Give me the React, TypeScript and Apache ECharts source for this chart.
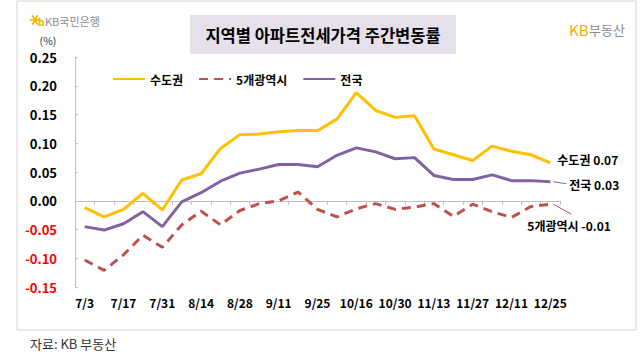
import React, { useEffect, useRef } from "react";
import * as echarts from "echarts";

const categories = [
  "7/3", "7/10", "7/17", "7/24", "7/31", "8/7", "8/14", "8/21", "8/28", "9/4",
  "9/11", "9/18", "9/25", "10/9", "10/16", "10/23", "10/30", "11/6", "11/13",
  "11/20", "11/27", "12/4", "12/11", "12/18", "12/25",
];

const seriesNames = ["수도권", "5개광역시", "전국"];

const capitalArea = [
  -0.012, -0.028, -0.015, 0.013, -0.016, 0.036, 0.047, 0.091, 0.115, 0.116,
  0.12, 0.122, 0.122, 0.142, 0.188, 0.157, 0.145, 0.148, 0.09, 0.08, 0.07,
  0.095, 0.086, 0.08, 0.066,
];

const fiveMetroCities = [
  -0.103, -0.121, -0.094, -0.06, -0.081, -0.042, -0.018, -0.042, -0.017, -0.005,
  0.0, 0.015, -0.015, -0.028, -0.014, -0.005, -0.015, -0.011, -0.005, -0.027,
  -0.006, -0.019, -0.029, -0.01, -0.006,
];

const nationwide = [
  -0.045, -0.051, -0.04, -0.019, -0.045, -0.002, 0.014, 0.034, 0.048, 0.055,
  0.063, 0.063, 0.059, 0.079, 0.092, 0.085, 0.073, 0.075, 0.044, 0.037, 0.037,
  0.045, 0.035, 0.035, 0.033,
];

const yMin = -0.15;
const yMax = 0.25;
const yStep = 0.05;

const COLORS = ["#FFC000", "#C0504D", "#8064A2"];
const FONT = '"Noto Sans CJK KR", "Noto Sans", sans-serif';

export default function App() {
  const ref = useRef<HTMLDivElement>(null);

  useEffect(() => {
    if (!ref.current) return;
    const chart = echarts.init(ref.current, undefined, { renderer: "svg" });

    const option: any = {
      animation: false,
      backgroundColor: "#ffffff",
      textStyle: { fontFamily: FONT },
      grid: { left: 75, right: 83, top: 57, bottom: 72, containLabel: false },
      legend: {
        left: 107,
        top: 68,
        itemWidth: 32,
        itemHeight: 14,
        itemGap: 15,
        data: seriesNames,
        itemStyle: { opacity: 0, color: "transparent", borderColor: "transparent", borderWidth: 0 },
        textStyle: { fontWeight: "bold", fontSize: 12, color: "#000", fontFamily: FONT },
      },
      xAxis: [
        {
          type: "category",
          data: categories,
          boundaryGap: true,
          axisLine: { show: true, onZero: true, lineStyle: { color: "#bfbfbf", width: 1 } },
          axisTick: { show: true, interval: 0, length: 4, lineStyle: { color: "#bfbfbf" } },
          axisLabel: { show: false },
          splitLine: { show: false },
        },
        {
          type: "category",
          data: categories,
          boundaryGap: true,
          position: "bottom",
          axisLine: { show: false, onZero: false },
          axisTick: { show: false },
          splitLine: { show: false },
          axisLabel: {
            interval: 1,
            fontWeight: "bold",
            fontSize: 12,
            color: "#000",
            margin: 9,
            fontFamily: FONT,
          },
        },
      ],
      yAxis: {
        type: "value",
        min: yMin,
        max: yMax,
        interval: yStep,
        axisLine: { show: true, lineStyle: { color: "#bfbfbf" } },
        axisTick: { show: true, inside: true, length: 3, lineStyle: { color: "#bfbfbf" } },
        splitLine: { show: false },
        axisLabel: {
          margin: 18,
          fontWeight: "bold",
          fontSize: 13,
          fontFamily: FONT,
          formatter: (v: number) => Number(v).toFixed(2),
          color: (v: any) => (Number(v) < -1e-9 ? "#FF0000" : "#000000"),
        },
      },
      series: [
        {
          name: seriesNames[0],
          type: "line",
          data: capitalArea,
          symbol: "none",
          showSymbol: false,
          color: COLORS[0],
          lineStyle: { width: 3, color: COLORS[0] },
        },
        {
          name: seriesNames[1],
          type: "line",
          data: fiveMetroCities,
          symbol: "none",
          showSymbol: false,
          color: COLORS[1],
          lineStyle: { width: 3, color: COLORS[1], type: [9, 6] },
        },
        {
          name: seriesNames[2],
          type: "line",
          data: nationwide,
          symbol: "none",
          showSymbol: false,
          color: COLORS[2],
          lineStyle: { width: 3, color: COLORS[2] },
        },
      ],
    };

    chart.setOption(option);

    const last = categories.length - 1;
    const pY = chart.convertToPixel({ seriesIndex: 0 }, [last, capitalArea[last]]) as number[];
    const pR = chart.convertToPixel({ seriesIndex: 1 }, [last, fiveMetroCities[last]]) as number[];
    const pP = chart.convertToPixel({ seriesIndex: 2 }, [last, nationwide[last]]) as number[];

    const labelFont = `bold 12px ${FONT}`;
    const spokes = [0, 60, 120].map((deg) => {
      const r = (deg * Math.PI) / 180;
      const cx = 35;
      const cy = 20;
      const len = 5.5;
      return {
        type: "line",
        shape: {
          x1: cx - Math.cos(r) * len,
          y1: cy - Math.sin(r) * len,
          x2: cx + Math.cos(r) * len,
          y2: cy + Math.sin(r) * len,
        },
        style: { stroke: "#F5B300", lineWidth: 1.6 },
      };
    });

    chart.setOption({
      graphic: [
        {
          type: "rect",
          shape: { x: 17, y: 1, width: 619, height: 329 },
          style: { fill: "none", stroke: "#d4d4d4", lineWidth: 1 },
          silent: true,
          z: -10,
        },
        {
          type: "rect",
          shape: { x: 190, y: 15, width: 266, height: 39 },
          style: { fill: "#E6E0EC" },
          z: -5,
        },
        {
          type: "text",
          x: 323,
          y: 35,
          style: {
            text: "지역별 아파트전세가격 주간변동률",
            font: `bold 16.5px ${FONT}`,
            fill: "#000",
            align: "center",
            verticalAlign: "middle",
          },
        },
        ...spokes,
        {
          type: "text",
          x: 38,
          y: 21,
          style: { text: "b", font: `bold 10px ${FONT}`, fill: "#F5B300", verticalAlign: "middle" },
        },
        {
          type: "text",
          x: 45,
          y: 21,
          style: { text: "KB국민은행", font: `11px ${FONT}`, fill: "#8a8a8a", verticalAlign: "middle" },
        },
        {
          type: "text",
          x: 569,
          y: 29,
          style: { text: "KB", font: `15px ${FONT}`, fill: "#F5A800", verticalAlign: "middle" },
        },
        {
          type: "text",
          x: 589,
          y: 29,
          style: { text: "부동산", font: `13px ${FONT}`, fill: "#8c8c8c", verticalAlign: "middle" },
        },
        {
          type: "text",
          x: 48,
          y: 40,
          style: { text: "(%)", font: `10.5px ${FONT}`, fill: "#333", align: "center", verticalAlign: "middle" },
        },
        {
          type: "text",
          x: pY[0] + 7,
          y: pY[1] - 3,
          style: {
            text: `${seriesNames[0]} ${capitalArea[last].toFixed(2)}`,
            font: labelFont,
            fill: "#000",
            verticalAlign: "middle",
          },
        },
        {
          type: "line",
          shape: { x1: pP[0] + 3, y1: pP[1], x2: pP[0] + 16, y2: pP[1] + 2 },
          style: { stroke: COLORS[2], lineWidth: 1 },
        },
        {
          type: "text",
          x: pP[0] + 19,
          y: pP[1] + 3,
          style: {
            text: `${seriesNames[2]} ${nationwide[last].toFixed(2)}`,
            font: labelFont,
            fill: "#000",
            verticalAlign: "middle",
          },
        },
        {
          type: "line",
          shape: { x1: pR[0] + 3, y1: pR[1], x2: pR[0] + 21, y2: pR[1] + 10 },
          style: { stroke: COLORS[1], lineWidth: 1 },
        },
        {
          type: "text",
          x: pR[0] - 23,
          y: pR[1] + 21,
          style: {
            text: `${seriesNames[1]} ${fiveMetroCities[last].toFixed(2)}`,
            font: labelFont,
            fill: "#000",
            verticalAlign: "middle",
          },
        },
        {
          type: "text",
          x: 30,
          y: 343,
          style: { text: "자료: KB 부동산", font: `13px ${FONT}`, fill: "#333", verticalAlign: "middle" },
        },
      ],
    });

    return () => chart.dispose();
  }, []);

  return (
    <div
      ref={ref}
      style={{ position: "fixed", left: 0, top: 0, width: 643, height: 359, background: "#fff" }}
    />
  );
}
